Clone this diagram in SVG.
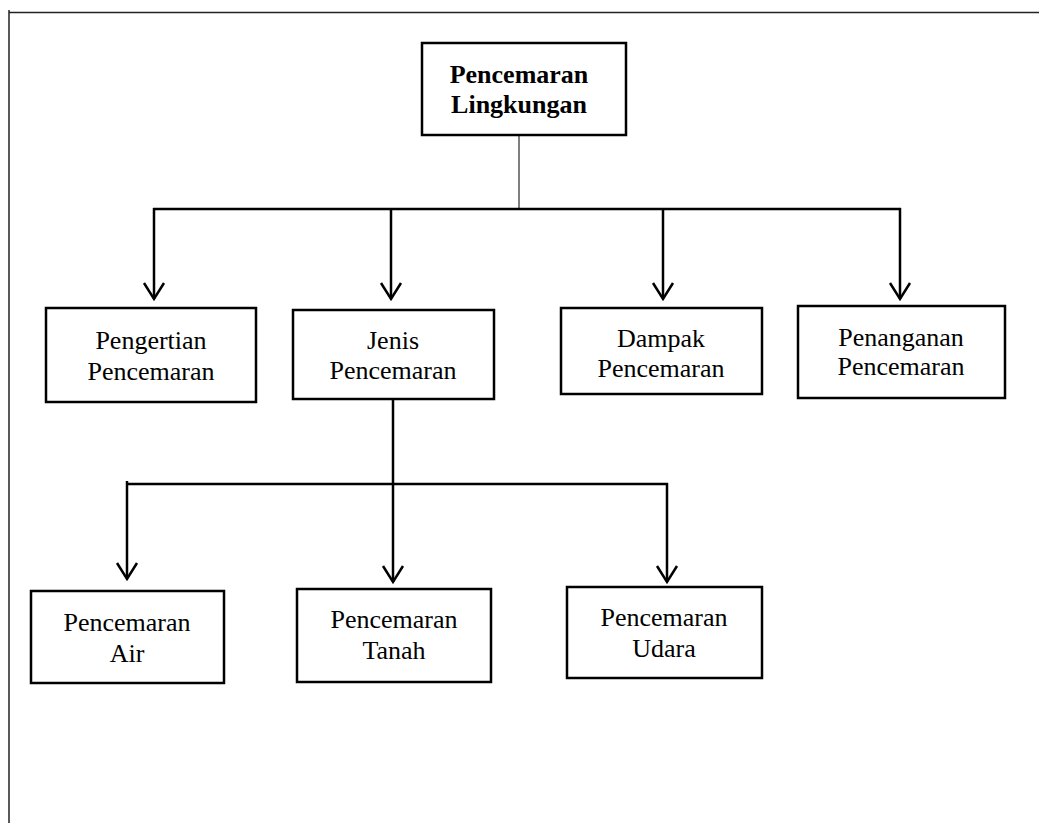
<svg xmlns="http://www.w3.org/2000/svg" width="1039" height="823" viewBox="0 0 1039 823">
  <style>
    .box { fill: #fff; stroke: #000; stroke-width: 2.5; }
    .t { font-family: "Liberation Serif", "Times New Roman", serif; font-size: 26px; fill: #000; text-anchor: middle; }
    .b { font-weight: bold; }
    .conn { stroke: #000; stroke-width: 2.5; fill: none; }
    .thin { stroke: #555; stroke-width: 1.5; fill: none; }
    .frame { stroke: #222; stroke-width: 1.5; fill: none; }
  </style>
  <defs>
    <marker id="vhead" markerUnits="userSpaceOnUse" viewBox="-20 -20 40 40" markerWidth="40" markerHeight="40" refX="0" refY="0" orient="auto" overflow="visible">
      <path d="M-16,-10 L0,0 L-16,10" fill="none" stroke="#000" stroke-width="2.5" stroke-linejoin="miter"/>
    </marker>
  </defs>
  <rect width="1039" height="823" fill="#fff"/>
  <g id="frame">
    <line class="frame" x1="9" y1="12.5" x2="1039" y2="12.5"/>
    <line class="frame" x1="9" y1="10" x2="9" y2="823"/>
  </g>
  <g id="connectors">
    <line class="thin" x1="519" y1="135" x2="519" y2="209"/>
    <line class="conn" x1="153" y1="209" x2="901" y2="209"/>
    <line class="conn" x1="154" y1="208" x2="154" y2="299" marker-end="url(#vhead)"/>
    <line class="conn" x1="391" y1="209" x2="391" y2="299" marker-end="url(#vhead)"/>
    <line class="conn" x1="663" y1="209" x2="663" y2="299" marker-end="url(#vhead)"/>
    <line class="conn" x1="900" y1="208" x2="900" y2="299" marker-end="url(#vhead)"/>
    <line class="conn" x1="393" y1="399" x2="393" y2="484"/>
    <line class="conn" x1="127" y1="484" x2="668" y2="484"/>
    <line class="conn" x1="127" y1="481" x2="127" y2="579" marker-end="url(#vhead)"/>
    <line class="conn" x1="393" y1="484" x2="393" y2="582" marker-end="url(#vhead)"/>
    <line class="conn" x1="667" y1="483" x2="667" y2="582" marker-end="url(#vhead)"/>
  </g>
  <g id="n-root">
    <rect class="box" x="422" y="43" width="204" height="92"/>
    <text class="t b" x="519" y="83">Pencemaran</text>
    <text class="t b" x="519" y="113">Lingkungan</text>
  </g>
  <g id="n-pengertian">
    <rect class="box" x="46" y="308" width="210" height="94"/>
    <text class="t" x="151" y="349">Pengertian</text>
    <text class="t" x="151" y="380">Pencemaran</text>
  </g>
  <g id="n-jenis">
    <rect class="box" x="293" y="310" width="201" height="89"/>
    <text class="t" x="393" y="349">Jenis</text>
    <text class="t" x="393" y="379">Pencemaran</text>
  </g>
  <g id="n-dampak">
    <rect class="box" x="561" y="308" width="201" height="86"/>
    <text class="t" x="661" y="347">Dampak</text>
    <text class="t" x="661" y="377">Pencemaran</text>
  </g>
  <g id="n-penanganan">
    <rect class="box" x="798" y="306" width="207" height="92"/>
    <text class="t" x="901" y="346">Penanganan</text>
    <text class="t" x="901" y="375">Pencemaran</text>
  </g>
  <g id="n-air">
    <rect class="box" x="31" y="591" width="193" height="92"/>
    <text class="t" x="127" y="631">Pencemaran</text>
    <text class="t" x="127" y="662">Air</text>
  </g>
  <g id="n-tanah">
    <rect class="box" x="297" y="589" width="194" height="93"/>
    <text class="t" x="394" y="628">Pencemaran</text>
    <text class="t" x="394" y="659">Tanah</text>
  </g>
  <g id="n-udara">
    <rect class="box" x="567" y="587" width="195" height="91"/>
    <text class="t" x="664" y="626">Pencemaran</text>
    <text class="t" x="664" y="657">Udara</text>
  </g>
</svg>
